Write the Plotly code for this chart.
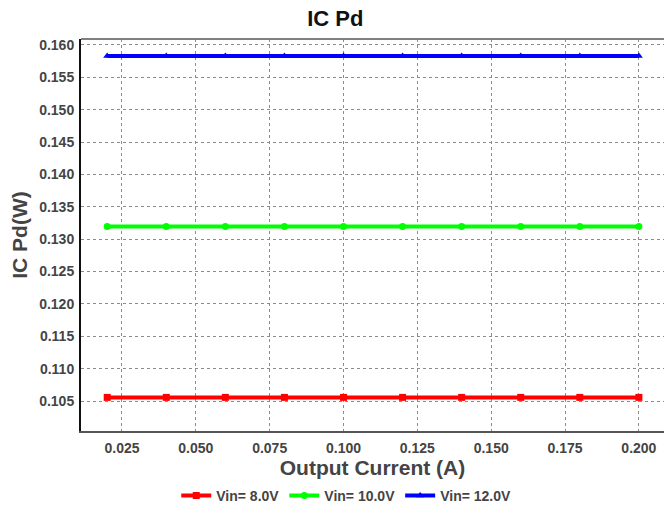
import plotly.graph_objects as go

# Output current sweep (A)
current = [0.02, 0.04, 0.06, 0.08, 0.10, 0.12, 0.14, 0.16, 0.18, 0.20]

# IC power dissipation (W) for each input voltage
pd_8v = [0.10557, 0.10557, 0.10557, 0.10557, 0.10557, 0.10557, 0.10557, 0.10557, 0.10557, 0.10557]
pd_10v = [0.13195, 0.13195, 0.13195, 0.13195, 0.13195, 0.13195, 0.13195, 0.13195, 0.13195, 0.13195]
pd_12v = [0.15830, 0.15830, 0.15830, 0.15830, 0.15830, 0.15830, 0.15830, 0.15830, 0.15830, 0.15830]

series_names = ["Vin= 8.0V", "Vin= 10.0V", "Vin= 12.0V"]
series_colors = ["#ff0000", "#00ff00", "#0000ff"]
series_symbols = ["square", "circle", "triangle-up"]

x_ticks = [0.025, 0.050, 0.075, 0.100, 0.125, 0.150, 0.175, 0.200]
y_ticks = [0.105, 0.110, 0.115, 0.120, 0.125, 0.130, 0.135, 0.140,
           0.145, 0.150, 0.155, 0.160]

FONT = "Liberation Sans, Arial, sans-serif"

fig = go.Figure()
for name, ys, color, sym in zip(series_names, [pd_8v, pd_10v, pd_12v],
                                series_colors, series_symbols):
    fig.add_trace(go.Scatter(
        x=current, y=ys, name=name, mode="lines+markers",
        line=dict(color=color, width=4),
        marker=dict(symbol=sym, size=7, color=color),
    ))

fig.update_layout(
    width=664, height=512,
    margin=dict(l=81, r=0, t=39, b=80),
    paper_bgcolor="white", plot_bgcolor="white",
    title=dict(text="<b>IC Pd</b>", x=0.505, xanchor="center", y=0.965,
               yanchor="middle",
               font=dict(family=FONT, size=22, color="#111111")),
    showlegend=True,
    legend=dict(orientation="h", x=0.455, xanchor="center", y=-0.165,
                yanchor="middle", itemwidth=30, tracegroupgap=0,
                font=dict(family=FONT, size=14, color="#444444", weight="bold"),
                bgcolor="rgba(0,0,0,0)"),
    shapes=[dict(type="line", xref="paper", yref="paper", x0=0, x1=1,
                 y0=1, y1=1, line=dict(color="#808080", width=2))],
)

fig.update_xaxes(
    range=[0.01113, 0.2085], tickvals=x_ticks, tickformat=".3f",
    showgrid=True, gridcolor="#8c8c8c", griddash="dot", gridwidth=1,
    showline=True, linecolor="#555555", linewidth=2,
    ticks="", ticklabelstandoff=3, zeroline=False,
    tickfont=dict(family=FONT, size=14, color="#444444", weight="bold"),
    title=dict(text="Output Current (A)", standoff=5,
               font=dict(family=FONT, size=21, color="#444444", weight="bold")),
)
fig.update_yaxes(
    range=[0.10038, 0.16092], tickvals=y_ticks, tickformat=".3f",
    showgrid=True, gridcolor="#8c8c8c", griddash="dot", gridwidth=1,
    showline=True, linecolor="#111111", linewidth=2,
    ticks="", ticklabelstandoff=2, zeroline=False,
    tickfont=dict(family=FONT, size=14, color="#444444", weight="bold"),
    title=dict(text="IC Pd(W)", standoff=6,
               font=dict(family=FONT, size=21, color="#444444", weight="bold")),
)

fig.write_html("out.html")
